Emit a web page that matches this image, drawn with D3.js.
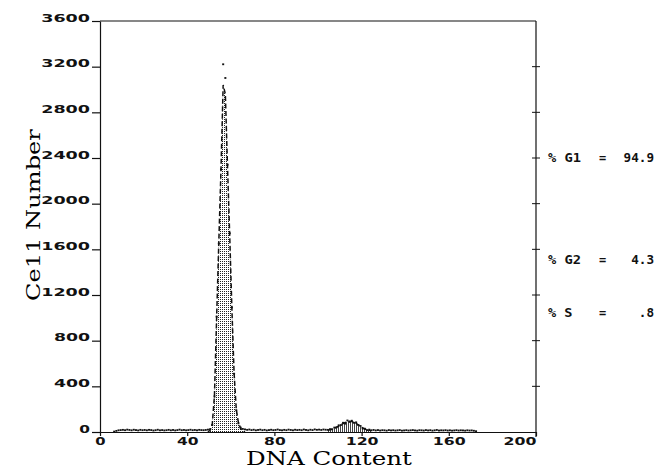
<!DOCTYPE html>
<html>
<head>
<meta charset="utf-8">
<script src="https://cdn.jsdelivr.net/npm/d3@7"></script>
<style>
  body { margin: 0; background: #fff; }
  svg { display: block; }
  .tick-label { font-family: 'DejaVu Sans', sans-serif; font-weight: bold; fill: #111; }
  .title { font-family: 'DejaVu Serif', 'Liberation Serif', serif; fill: #000; }
  .stat { font-family: 'DejaVu Sans Mono', monospace; font-weight: bold; font-size: 12px; fill: #111; }
</style>
</head>
<body>
<svg width="655" height="470"></svg>
<script>
// per-channel counts, channel 0..175
const counts = [
  0, 0, 0, 0, 0, 0, 3, 9, 14, 16,
  18, 15, 20, 17, 14, 19, 16, 13, 18, 15,
  17, 14, 18, 16, 12, 15, 19, 14, 16, 13,
  15, 18, 14, 17, 13, 16, 20, 15, 17, 14,
  16, 19, 15, 17, 14, 18, 16, 15, 17, 20,
  24, 62, 310, 1010, 1650, 2300, 3220, 3100, 2340, 1740,
  1090, 510, 190, 75, 38, 26, 22, 18, 21, 16,
  19, 14, 17, 20, 15, 18, 13, 16, 19, 15,
  17, 21, 16, 14, 18, 15, 20, 17, 14, 19,
  16, 18, 15, 21, 17, 14, 19, 16, 22, 18,
  20, 17, 21, 19, 18, 24, 22, 38, 40, 58,
  60, 80, 72, 100, 88, 98, 80, 84, 60, 52,
  30, 28, 16, 20, 14, 17, 13, 16, 12, 15,
  14, 11, 16, 13, 15, 12, 14, 16, 11, 13,
  15, 12, 14, 16, 13, 11, 15, 14, 12, 16,
  13, 15, 11, 14, 17, 12, 14, 13, 15, 12,
  14, 11, 13, 15, 12, 14, 13, 11, 14, 12,
  13, 10, 6, 0, 0, 0
];

// fitted G1 / G2 peaks (dashed), first channel given separately
const g1FitStart = 49;
const g1Fit = [0, 14, 68, 320, 1000, 1660, 2300, 3040, 2960, 2320, 1720, 1080, 520, 200, 80, 32, 10, 0];
const g2FitStart = 104;
const g2Fit = [16, 20, 26, 33, 42, 52, 63, 74, 84, 91, 94, 92, 86, 76, 63, 49, 36, 26, 19, 15, 13];

const xTicks = [0, 40, 80, 120, 160, 200];
const yTicks = [0, 400, 800, 1200, 1600, 2000, 2400, 2800, 3200, 3600];

const statLabels = ['% G1', '% G2', '% S'];
const statValues = ['94.9', '4.3', '.8'];
const statLevels = [2400, 1510, 1040]; // vertical place on the count scale

const xTitle = 'DNA Content';
const yTitle = 'Ce11 Number';

const margin = { top: 21, right: 119, bottom: 38, left: 100 };
const width = 655 - margin.left - margin.right;
const height = 470 - margin.top - margin.bottom;

const x = d3.scaleLinear().domain([0, 200]).range([0, width]);
const y = d3.scaleLinear().domain([0, 3600]).range([height, 0]);

const svgRoot = d3.select('svg');
const defs = svgRoot.append('defs');

const dots = defs.append('pattern')
  .attr('id', 'dots')
  .attr('width', 2).attr('height', 2)
  .attr('patternUnits', 'userSpaceOnUse');
dots.append('rect').attr('width', 1).attr('height', 1).attr('fill', '#222');

const hatch = defs.append('pattern')
  .attr('id', 'hatch')
  .attr('width', 2).attr('height', 2)
  .attr('patternUnits', 'userSpaceOnUse');
hatch.append('rect').attr('width', 1).attr('height', 2).attr('fill', '#444');

const svg = svgRoot.append('g')
  .attr('transform', `translate(${margin.left}, ${margin.top})`);

const chanX = c => x(c + 0.5);

const fitPoints = (start, vals) => vals.map((v, i) => [start + i, v]);

const area = d3.area()
  .x(d => chanX(d[0]))
  .y0(y(0))
  .y1(d => y(d[1]));

const line = d3.line()
  .x(d => chanX(d[0]))
  .y(d => y(d[1]));

const g1 = fitPoints(g1FitStart, g1Fit);
const g2 = fitPoints(g2FitStart, g2Fit);

svg.append('path').datum(g1).attr('d', area).attr('fill', 'url(#dots)');
svg.append('path').datum(g2).attr('d', area).attr('fill', 'url(#hatch)');

[g1, g2].forEach(pts => {
  svg.append('path')
    .datum(pts)
    .attr('d', line)
    .attr('fill', 'none')
    .attr('stroke', '#111')
    .attr('stroke-width', 1.5)
    .attr('stroke-dasharray', '5,2.5');
});

// observed counts as dots
svg.append('g')
  .selectAll('rect')
  .data(counts.map((v, i) => [i, v]).filter(d => d[1] > 0))
  .enter()
  .append('rect')
  .attr('x', d => chanX(d[0]) - 1)
  .attr('y', d => y(d[1]) - 1)
  .attr('width', 2)
  .attr('height', 1.8)
  .attr('fill', '#111');

// frame: top + right
svg.append('line')
  .attr('x1', 0).attr('x2', width)
  .attr('y1', 0).attr('y2', 0)
  .attr('stroke', '#111').attr('stroke-width', 1.2);
svg.append('line')
  .attr('x1', width).attr('x2', width)
  .attr('y1', 0).attr('y2', height + 5)
  .attr('stroke', '#111').attr('stroke-width', 1.2);
svg.append('g')
  .selectAll('line')
  .data(yTicks.slice(1, -1))
  .enter()
  .append('line')
  .attr('x1', width - 4).attr('x2', width + 4)
  .attr('y1', d => y(d)).attr('y2', d => y(d))
  .attr('stroke', '#111');

const yAxis = svg.append('g')
  .call(d3.axisLeft(y).tickValues(yTicks).tickFormat(d3.format('d'))
    .tickSize(8).tickSizeOuter(0).tickPadding(2));
yAxis.selectAll('text')
  .attr('class', 'tick-label')
  .attr('font-size', 11)
  .attr('dy', 0)
  .attr('textLength', d => String(d).length * 12.7 - 2)
  .attr('lengthAdjust', 'spacingAndGlyphs');

const xAxis = svg.append('g')
  .attr('transform', `translate(0, ${height})`)
  .call(d3.axisBottom(x).tickValues(xTicks).tickFormat(d3.format('d'))
    .tickSize(4).tickSizeOuter(0).tickPadding(1));
xAxis.selectAll('text')
  .attr('class', 'tick-label')
  .attr('font-size', 11)
  .attr('textLength', d => String(d).length * 11.3 - 1)
  .attr('lengthAdjust', 'spacingAndGlyphs')
  .attr('text-anchor', d => d === 200 ? 'end' : 'middle');

svgRoot.selectAll('.domain, .tick line').attr('stroke', '#111').attr('stroke-width', 1.2);

svgRoot.append('text')
  .attr('class', 'title')
  .attr('font-size', 18)
  .attr('text-anchor', 'middle')
  .attr('x', margin.left + x(105))
  .attr('y', 465)
  .attr('textLength', 166)
  .attr('lengthAdjust', 'spacingAndGlyphs')
  .text(xTitle);

svgRoot.append('text')
  .attr('class', 'title')
  .attr('font-size', 19)
  .attr('text-anchor', 'middle')
  .attr('transform', `translate(40, ${margin.top + y(1900)}) rotate(-90)`)
  .attr('textLength', 172)
  .attr('lengthAdjust', 'spacingAndGlyphs')
  .text(yTitle);

const stats = svg.append('g')
  .attr('transform', `translate(${width + 12}, 0)`);
statLabels.forEach((s, i) => {
  const yy = y(statLevels[i]) + 4;
  stats.append('text').attr('class', 'stat').attr('x', 0).attr('y', yy)
    .attr('textLength', s.length * 8.5 - 1).attr('lengthAdjust', 'spacingAndGlyphs').text(s);
  stats.append('text').attr('class', 'stat').attr('x', 51).attr('y', yy).text('=');
  stats.append('text').attr('class', 'stat').attr('x', 106).attr('y', yy)
    .attr('text-anchor', 'end')
    .attr('textLength', statValues[i].length * 7.6).attr('lengthAdjust', 'spacingAndGlyphs')
    .text(statValues[i]);
});
</script>
</body>
</html>
